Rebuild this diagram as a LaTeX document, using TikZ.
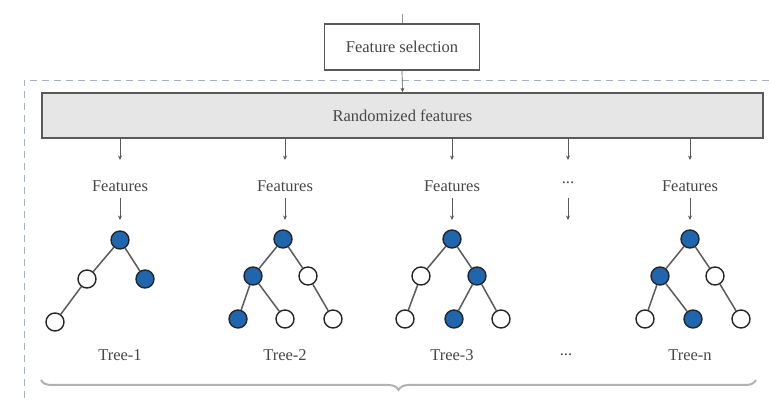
\documentclass[tikz,border=0pt]{standalone}
\usepackage{fontspec}
\setmainfont{Liberation Serif}
\usetikzlibrary{arrows.meta,decorations.pathreplacing}
\definecolor{nodeblue}{HTML}{1F66AE}
\definecolor{edgegray}{HTML}{5A5A5A}
\definecolor{boxfill}{HTML}{E6E6E6}
\definecolor{dashblue}{HTML}{9FB4C8}
\tikzset{
  every node/.style={font=\fontsize{16.5}{19}\selectfont, text=black!72},
  flowbox/.style={draw=black!65, line width=1.4pt, inner sep=0pt},
  feat/.style={inner sep=1pt},
  down/.style={-{Stealth[length=4.5pt,width=4pt]}, draw=edgegray, line width=0.7pt},
  edge/.style={draw=edgegray, line width=1.5pt},
  tn/.style={circle, draw=black!85, line width=1.4pt, minimum size=18pt, inner sep=0pt},
  on/.style={tn, fill=nodeblue},
  off/.style={tn, fill=white},
}
\begin{document}
\begin{tikzpicture}[x=1pt,y=-1pt]
\useasboundingbox (0,0) rectangle (769,403);

% outer dashed frame
\draw[dashblue, dash pattern=on 7pt off 5pt, line width=0.8pt]
  (769,80) -- (24,80) -- (24,403);

% top boxes
\draw[black!40, line width=0.6pt] (402,14) -- (402,24);
\node[flowbox, fill=white, minimum width=155pt, minimum height=46pt] (sel) at (402,47) {Feature selection};
\node[flowbox, fill=boxfill, minimum width=721pt, minimum height=45pt] (rand) at (402.5,115.5) {Randomized features};
\draw[down] (sel.south) -- (rand.north);

% feature labels
\foreach \n/\x in {1/120,2/285,3/452,4/690}{
  \node[feat] (f\n) at (\x,186) {Features};
  \coordinate (a\n) at (\x,160);
  \coordinate (b\n) at (\x,198);
  \coordinate (c\n) at (\x,220);
  \draw[down] (rand.south -| a\n) -- (a\n);
  \draw[down] (b\n) -- (c\n);
}
\node[feat] (fdots) at (568,183) {...};
\coordinate (ad) at (568,160);
\coordinate (bd) at (568,198);
\coordinate (cd) at (568,220);
\draw[down] (rand.south -| ad) -- (ad);
\draw[down] (bd) -- (cd);

% Tree-1
\node[on]  (t1r)  at (120,240) {};
\node[off] (t1l)  at (87,279) {};
\node[on]  (t1rr) at (145,279) {};
\node[off] (t1ll) at (55,322) {};
% Tree-2
\node[on]  (t2r)  at (283,239) {};
\node[on]  (t2l)  at (253,276) {};
\node[off] (t2rr) at (308,276) {};
\node[on]  (t2ll) at (238,319) {};
\node[off] (t2lr) at (285,319) {};
\node[off] (t2rx) at (333,319) {};
% Tree-3
\node[on]  (t3r)  at (452,239) {};
\node[off] (t3l)  at (421,276) {};
\node[on]  (t3rr) at (477,276) {};
\node[off] (t3ll) at (405,319) {};
\node[on]  (t3rl) at (454,319) {};
\node[off] (t3rx) at (501,319) {};
% Tree-n
\node[on]  (t4r)  at (690,239) {};
\node[on]  (t4l)  at (660,276) {};
\node[off] (t4rr) at (715,276) {};
\node[off] (t4ll) at (645,319) {};
\node[on]  (t4lr) at (693,319) {};
\node[off] (t4rx) at (741,319) {};

% tree edges
\draw[edge] (t1r) -- (t1l) (t1r) -- (t1rr) (t1l) -- (t1ll);
\draw[edge] (t2r) -- (t2l) (t2r) -- (t2rr) (t2l) -- (t2ll) (t2l) -- (t2lr) (t2rr) -- (t2rx);
\draw[edge] (t3r) -- (t3l) (t3r) -- (t3rr) (t3l) -- (t3ll) (t3rr) -- (t3rl) (t3rr) -- (t3rx);
\draw[edge] (t4r) -- (t4l) (t4r) -- (t4rr) (t4l) -- (t4ll) (t4l) -- (t4lr) (t4rr) -- (t4rx);

% tree labels
\node (l1) at (120,355) {Tree-1};
\node (l2) at (285,355) {Tree-2};
\node (l3) at (452,355) {Tree-3};
\node (l4) at (566,355) {...};
\node (l5) at (690,355) {Tree-n};

% brace gathering all trees
\coordinate (bl) at (41,380);
\coordinate (br) at (756,380);
\draw[black!30, line width=2pt, decorate, decoration={brace, mirror, amplitude=10pt}] (bl) -- (br);
\end{tikzpicture}
\end{document}
